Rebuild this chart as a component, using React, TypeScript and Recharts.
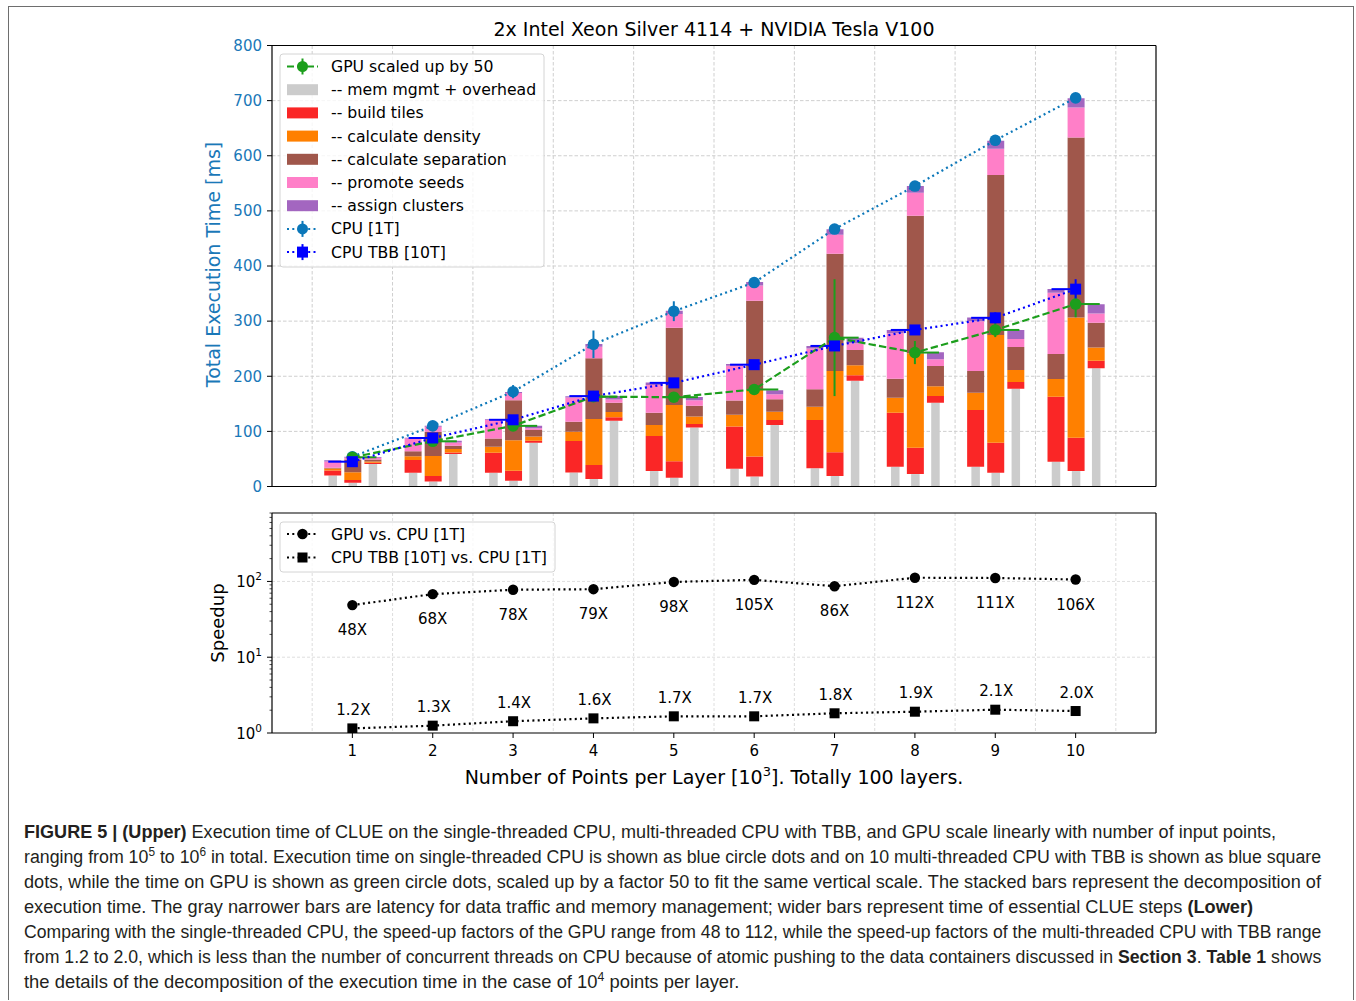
import React from 'react';
import { ComposedChart, Bar, Scatter, XAxis, YAxis, CartesianGrid, ErrorBar } from 'recharts';

// ---------- data ----------
const categories = [1, 2, 3, 4, 5, 6, 7, 8, 9, 10];
const halfTicks = [0.5, 1.5, 2.5, 3.5, 4.5, 5.5, 6.5, 7.5, 8.5, 9.5, 10.5];
const xDomain: [number, number] = [0, 11];
const yTicksUpper = [0, 100, 200, 300, 400, 500, 600, 700, 800];
const groupOffsets = [-0.25, 0, 0.25]; // TBB [10T], CPU [1T], GPU x50

// TBB [10T] (left bar) segments, ms
const tbbMem = [20, 25, 25, 25.5, 28, 32, 33, 36, 36, 45];
const tbbTiles = [9, 23, 36, 57, 63.5, 77, 87.5, 98, 103, 118];
const tbbDensity = [3.5, 7, 11, 17, 20, 21, 24, 27, 31, 32];
const tbbSeparation = [1.5, 9, 15, 18, 22.5, 26, 32, 34.5, 39.5, 45.5];
const tbbSeeds = [11.5, 23, 33.5, 44, 50, 63, 74, 82.5, 90.5, 111];
const tbbAssign = [2, 1.5, 1.5, 2, 4.5, 3, 4.5, 6, 6.5, 7];

// CPU [1T] (middle bar) segments, ms
const cpuMem = [7, 9, 10.5, 13.5, 16, 18, 19, 22.5, 25, 28];
const cpuTiles = [5, 10, 18, 25.5, 30, 36.5, 43, 48, 54.5, 60.5];
const cpuDensity = [14, 36.5, 55.5, 83.5, 102, 121, 147.5, 171, 195.5, 218];
const cpuSeparation = [23, 44, 72.5, 110, 140, 161.5, 212.5, 249.5, 290, 326.5];
const cpuSeeds = [3, 9, 13, 21, 25, 27.5, 34.5, 42, 47.5, 54.5];
const cpuAssign = [2, 1.5, 2, 5, 6, 6.5, 10, 12, 14.5, 17];

// GPU scaled up by 50 (right bar) segments, ms
const gpuMem = [41, 59, 79.5, 119.5, 107, 111.5, 192, 152, 177.5, 214.5];
const gpuTiles = [2, 2.5, 3.5, 6, 6.5, 9, 10, 12, 12, 13.5];
const gpuDensity = [2.5, 6.5, 7.5, 9.5, 13.5, 15, 18, 18, 22, 24];
const gpuSeparation = [3.5, 6, 12, 17, 19.5, 23, 27.5, 36.5, 41.5, 45];
const gpuSeeds = [3, 6, 3, 6, 10, 9, 12.5, 12.5, 14.5, 17];
const gpuAssign = [1.5, 3, 4.5, 6, 6, 7, 10, 12.5, 16.5, 16.5];

// totals with error bars
const cpu1T = [54, 110, 172, 258, 318, 370, 467, 545, 628, 705];
const cpu1TErr = [3, 3, 12, 25, 18, 3, 3, 3, 3, 3];
const tbb10T = [45, 88, 121, 164, 188, 221, 255, 284, 306, 358];
const tbb10TErr = [4, 4, 6, 4, 4, 4, 4, 7, 10, 18];
const gpu50 = [53, 82, 110, 163, 162, 176, 270, 243, 284, 331];
const gpu50Err = [3, 3, 3, 3, 3, 3, 106, 21, 13, 24];
const xErrSpan = 0.3;

// speedups (lower panel)
const gpuSpeedup = [48.7, 68, 77.7, 79, 98.5, 105, 86.5, 112, 111, 106];
const gpuSpeedupLabels = ['48X', '68X', '78X', '79X', '98X', '105X', '86X', '112X', '111X', '106X'];
const tbbSpeedup = [1.15, 1.25, 1.43, 1.56, 1.66, 1.66, 1.82, 1.91, 2.03, 1.95];
const tbbSpeedupLabels = ['1.2X', '1.3X', '1.4X', '1.6X', '1.7X', '1.7X', '1.8X', '1.9X', '2.1X', '2.0X'];
const logDomain: [number, number] = [1, 800];
const logMajor = [1, 10, 100];
const logTicks = [1, 2, 3, 4, 5, 6, 7, 8, 9, 10, 20, 30, 40, 50, 60, 70, 80, 90, 100, 200, 300, 400, 500, 600, 700, 800];

// ---------- styles ----------
const FONT = "'DejaVu Sans', sans-serif";
const CAPTION_FONT = "'Liberation Sans Narrow', 'Liberation Sans', Arial, sans-serif";
const segKeys = ['mem', 'tiles', 'density', 'separation', 'seeds', 'assign'];
const segColors: Record<string, string> = {
  mem: '#cccccc',
  tiles: '#fa2626',
  density: '#ff8000',
  separation: '#a0574b',
  seeds: '#ff7fc8',
  assign: '#a366c0',
};
const segLabels: Record<string, string> = {
  mem: '-- mem mgmt + overhead',
  tiles: '-- build tiles',
  density: '-- calculate density',
  separation: '-- calculate separation',
  seeds: '-- promote seeds',
  assign: '-- assign clusters',
};
const CPU_COLOR = '#0b77b9';
const TBB_COLOR = '#0000ff';
const GPU_COLOR = '#1c9e1c';
const AXIS_BLUE = '#1a78b8';
const GRID = '#cfcfcf';
const DOT = '2 3.3';
const DASH = '7.4 3.2';

// ---------- derived tables ----------
const stacks = [
  [tbbMem, tbbTiles, tbbDensity, tbbSeparation, tbbSeeds, tbbAssign],
  [cpuMem, cpuTiles, cpuDensity, cpuSeparation, cpuSeeds, cpuAssign],
  [gpuMem, gpuTiles, gpuDensity, gpuSeparation, gpuSeeds, gpuAssign],
];
const barRows: any[] = [];
categories.forEach((c, i) => {
  stacks.forEach((s, g) => {
    const row: any = { x: c + groupOffsets[g] };
    segKeys.forEach((k, j) => (row[k] = s[j][i]));
    barRows.push(row);
  });
});
const cpuRows = categories.map((c, i) => ({ x: c, y: cpu1T[i], ey: cpu1TErr[i] }));
const tbbRows = categories.map((c, i) => ({ x: c, y: tbb10T[i], ey: tbb10TErr[i], ex: [xErrSpan, 0] }));
const gpuRows = categories.map((c, i) => ({ x: c, y: gpu50[i], ey: gpu50Err[i], ex: [0, xErrSpan] }));
const gpuSpRows = categories.map((c, i) => ({ x: c, y: gpuSpeedup[i], label: gpuSpeedupLabels[i] }));
const tbbSpRows = categories.map((c, i) => ({ x: c, y: tbbSpeedup[i], label: tbbSpeedupLabels[i] }));

// ---------- helpers ----------
const halfGen = ({ offset }: any) =>
  halfTicks.map((v) => offset.left + ((v - xDomain[0]) / (xDomain[1] - xDomain[0])) * offset.width);
const logGen = ({ offset }: any) => {
  const l0 = Math.log10(logDomain[0]);
  const l1 = Math.log10(logDomain[1]);
  return logMajor
    .filter((v) => v > logDomain[0])
    .map((v) => offset.top + offset.height * (1 - (Math.log10(v) - l0) / (l1 - l0)));
};

const GrayShape = (p: any) => {
  const w = 8.5;
  if (!p.height) return <g />;
  return <rect x={p.x + (p.width - w) / 2} y={p.y} width={w} height={p.height} fill={segColors.mem} />;
};
const circleShape = (color: string, r: number) => (p: any) => <circle cx={p.cx} cy={p.cy} r={r} fill={color} />;
const squareShape = (color: string, s: number) => (p: any) => (
  <rect x={p.cx - s / 2} y={p.cy - s / 2} width={s} height={s} fill={color} />
);
const labeledCircle = (p: any) => (
  <g>
    <circle cx={p.cx} cy={p.cy} r={5.2} fill="#000" />
    <text x={p.cx} y={p.cy + 30} textAnchor="middle" fontSize={15} fill="#000" fontFamily={FONT}>
      {p.payload.label}
    </text>
  </g>
);
const labeledSquare = (p: any) => (
  <g>
    <rect x={p.cx - 5} y={p.cy - 5} width={10} height={10} fill="#000" />
    <text x={p.cx + 1} y={p.cy - 13.5} textAnchor="middle" fontSize={15} fill="#000" fontFamily={FONT}>
      {p.payload.label}
    </text>
  </g>
);
const LOG_TICK_SIZE = 5;
const LOG_TICK_MARGIN = 3;
const LogTick = (p: any) => {
  const v = p.payload.value;
  const axisX = p.x + LOG_TICK_SIZE + LOG_TICK_MARGIN;
  const major = logMajor.includes(v);
  const exp = Math.round(Math.log10(v));
  return (
    <g>
      <line x1={axisX - (major ? 5 : 2.5)} x2={axisX} y1={p.y} y2={p.y} stroke="#000" strokeWidth={major ? 1 : 0.7} />
      {major && (
        <text x={axisX - 10} y={p.y + 5.5} textAnchor="end" fontSize={15} fill="#000" fontFamily={FONT}>
          10
          <tspan dy={-7} fontSize={10.5}>
            {exp}
          </tspan>
        </text>
      )}
    </g>
  );
};

// caption
type Seg = { t: string; b?: boolean; sup?: boolean };
const captionLines: Seg[][] = [
  [
    { t: 'FIGURE 5 | (Upper)', b: true },
    { t: ' Execution time of CLUE on the single-threaded CPU, multi-threaded CPU with TBB, and GPU scale linearly with number of input points,' },
  ],
  [
    { t: 'ranging from 10' },
    { t: '5', sup: true },
    { t: ' to 10' },
    { t: '6', sup: true },
    { t: ' in total. Execution time on single-threaded CPU is shown as blue circle dots and on 10 multi-threaded CPU with TBB is shown as blue square' },
  ],
  [
    { t: 'dots, while the time on GPU is shown as green circle dots, scaled up by a factor 50 to fit the same vertical scale. The stacked bars represent the decomposition of' },
  ],
  [
    { t: 'execution time. The gray narrower bars are latency for data traffic and memory management; wider bars represent time of essential CLUE steps ' },
    { t: '(Lower)', b: true },
  ],
  [
    { t: 'Comparing with the single-threaded CPU, the speed-up factors of the GPU range from 48 to 112, while the speed-up factors of the multi-threaded CPU with TBB range' },
  ],
  [
    { t: 'from 1.2 to 2.0, which is less than the number of concurrent threads on CPU because of atomic pushing to the data containers discussed in ' },
    { t: 'Section 3', b: true },
    { t: '. ' },
    { t: 'Table 1', b: true },
    { t: ' shows' },
  ],
  [
    { t: 'the details of the decomposition of the execution time in the case of 10' },
    { t: '4', sup: true },
    { t: ' points per layer.' },
  ],
];
const captionEnds = [1278, 1322, 1322, 1254, 1322, 1322, 740];
const captionStart = 24;
const CAP_SIZE = 18;
const CAP_SUP = 12;

let measureCtx: CanvasRenderingContext2D | null = null;
const measure = (s: Seg) => {
  if (!measureCtx && typeof document !== 'undefined') {
    measureCtx = document.createElement('canvas').getContext('2d');
  }
  const size = s.sup ? CAP_SUP : CAP_SIZE;
  if (!measureCtx) return s.t.length * size * 0.5;
  measureCtx.font = `${s.b ? 'bold ' : ''}${size}px ${CAPTION_FONT}`;
  return measureCtx.measureText(s.t).width;
};

const renderCaption = () =>
  captionLines.map((segs, li) => {
    let shift = 0;
    const natural = segs.reduce((acc, s) => acc + measure(s), 0);
    const sx = natural > 0 ? (captionEnds[li] - captionStart) / natural : 1;
    return (
      <text
        key={li}
        transform={`translate(${captionStart - 8}, ${830 + li * 25}) scale(${sx}, 1)`}
        fontSize={CAP_SIZE}
        fill="#231f20"
        fontFamily={CAPTION_FONT}
        style={{ whiteSpace: 'pre' }}
      >
        {segs.map((s, k) => {
          const target = s.sup ? -7 : 0;
          const dy = target - shift;
          shift = target;
          return (
            <tspan key={k} dy={dy || undefined} fontSize={s.sup ? CAP_SUP : undefined} fontWeight={s.b ? 'bold' : undefined}>
              {s.t}
            </tspan>
          );
        })}
      </text>
    );
  });

// legend handles
const HX0 = 279;
const HX1 = 310;
const HXC = (HX0 + HX1) / 2;
const lineHandle = (y: number, color: string, dash: string, marker: 'circle' | 'square', err: boolean, size = 11) => (
  <g>
    <line x1={HX0} x2={HX1} y1={y} y2={y} stroke={color} strokeWidth={2} strokeDasharray={dash} />
    {err && <line x1={HXC} x2={HXC} y1={y - 8} y2={y + 8} stroke={color} strokeWidth={2} />}
    {marker === 'circle' ? (
      <circle cx={HXC} cy={y} r={size / 2} fill={color} />
    ) : (
      <rect x={HXC - size / 2} y={y - size / 2} width={size} height={size} fill={color} />
    )}
  </g>
);

export default function App() {
  const upperLegendY = (i: number) => 58.5 + 23.2 * i;
  const upperEntries: { label: string; handle: (y: number) => React.ReactNode }[] = [
    { label: 'GPU scaled up by 50', handle: (y) => lineHandle(y, GPU_COLOR, '7 3', 'circle', true) },
    ...segKeys.map((k) => ({
      label: segLabels[k],
      handle: (y: number) => <rect x={HX0} y={y - 5.5} width={HX1 - HX0} height={11} fill={segColors[k]} />,
    })),
    { label: 'CPU [1T]', handle: (y) => lineHandle(y, CPU_COLOR, DOT, 'circle', true) },
    { label: 'CPU TBB [10T]', handle: (y) => lineHandle(y, TBB_COLOR, DOT, 'square', true) },
  ];

  return (
    <div style={{ position: 'relative', width: 1356, height: 1000, fontFamily: FONT }}>
      <style>{'html,body{margin:0;padding:0;}'}</style>
      <div style={{ position: 'absolute', left: 8, top: 8, width: 1340, height: 984 }}>
        {/* outer frame */}
        <div
          style={{
            position: 'absolute',
            left: 0,
            top: -2,
            width: 1345.5,
            height: 994,
            boxSizing: 'border-box',
            borderTop: '1.5px solid #6e6e6e',
            borderLeft: '1.5px solid #6e6e6e',
            borderRight: '1.5px solid #6e6e6e',
          }}
        />
        {/* upper panel */}
        <div style={{ position: 'absolute', left: 0, top: 0 }}>
          <ComposedChart
            width={1340}
            height={500}
            data={barRows}
            margin={{ top: 36.5, right: 191, bottom: 11.5, left: 204 }}
            style={{ fontFamily: FONT }}
          >
            <CartesianGrid stroke={GRID} strokeDasharray="3.5 2" verticalCoordinatesGenerator={halfGen} />
            <XAxis
              dataKey="x"
              type="number"
              domain={xDomain}
              ticks={categories}
              interval={0}
              allowDataOverflow
              tick={false}
              tickSize={5}
              height={10}
              axisLine={{ stroke: '#000', strokeWidth: 1.2 }}
              tickLine={{ stroke: '#000' }}
            />
            <XAxis
              xAxisId="t"
              orientation="top"
              type="number"
              domain={xDomain}
              ticks={categories}
              allowDataOverflow
              height={1}
              tick={false}
              tickLine={false}
              axisLine={{ stroke: '#000', strokeWidth: 1.2 }}
            />
            <YAxis
              type="number"
              domain={[0, 800]}
              ticks={yTicksUpper}
              interval={0}
              allowDataOverflow
              width={60}
              tickSize={5}
              tickMargin={5}
              tick={{ fill: AXIS_BLUE, fontSize: 15, fontFamily: FONT }}
              axisLine={{ stroke: '#000', strokeWidth: 1.2 }}
              tickLine={{ stroke: '#000' }}
            />
            <YAxis
              yAxisId="r"
              orientation="right"
              type="number"
              domain={[0, 800]}
              ticks={yTicksUpper}
              allowDataOverflow
              width={1}
              tick={false}
              tickLine={false}
              axisLine={{ stroke: '#000', strokeWidth: 1.2 }}
            />
            {segKeys.map((k) => (
              <Bar
                key={k}
                dataKey={k}
                stackId="s"
                barSize={17}
                fill={segColors[k]}
                isAnimationActive={false}
                shape={k === 'mem' ? GrayShape : undefined}
              />
            ))}
            <Scatter
              data={cpuRows}
              dataKey="y"
              isAnimationActive={false}
              line={{ stroke: CPU_COLOR, strokeWidth: 2.2, strokeDasharray: DOT }}
              shape={circleShape(CPU_COLOR, 5.8)}
            >
              <ErrorBar dataKey="ey" direction="y" width={0} stroke={CPU_COLOR} strokeWidth={2} />
            </Scatter>
            <Scatter
              data={gpuRows}
              dataKey="y"
              isAnimationActive={false}
              line={{ stroke: GPU_COLOR, strokeWidth: 2.2, strokeDasharray: DASH }}
              shape={circleShape(GPU_COLOR, 5.8)}
            >
              <ErrorBar dataKey="ey" direction="y" width={0} stroke={GPU_COLOR} strokeWidth={2} />
              <ErrorBar dataKey="ex" direction="x" width={0} stroke={GPU_COLOR} strokeWidth={2} />
            </Scatter>
            <Scatter
              data={tbbRows}
              dataKey="y"
              isAnimationActive={false}
              line={{ stroke: TBB_COLOR, strokeWidth: 2.2, strokeDasharray: DOT }}
              shape={squareShape(TBB_COLOR, 11)}
            >
              <ErrorBar dataKey="ey" direction="y" width={0} stroke={TBB_COLOR} strokeWidth={2} />
              <ErrorBar dataKey="ex" direction="x" width={0} stroke={TBB_COLOR} strokeWidth={2} />
            </Scatter>
          </ComposedChart>
        </div>

        {/* lower panel */}
        <div style={{ position: 'absolute', left: 0, top: 480 }}>
          <ComposedChart width={1340} height={320} margin={{ top: 24, right: 191, bottom: 25, left: 204 }} style={{ fontFamily: FONT }}>
            <CartesianGrid
              stroke="#d6d6d6"
              strokeWidth={0.8}
              strokeDasharray="3 2"
              verticalCoordinatesGenerator={halfGen}
              horizontalCoordinatesGenerator={logGen}
            />
            <XAxis
              dataKey="x"
              type="number"
              domain={xDomain}
              ticks={categories}
              interval={0}
              allowDataOverflow
              tickSize={5}
              tickMargin={7}
              height={50}
              tick={{ fill: '#000', fontSize: 15, fontFamily: FONT }}
              axisLine={{ stroke: '#000', strokeWidth: 1.2 }}
              tickLine={{ stroke: '#000' }}
            />
            <XAxis
              xAxisId="t"
              orientation="top"
              type="number"
              domain={xDomain}
              ticks={categories}
              allowDataOverflow
              height={1}
              tick={false}
              tickLine={false}
              axisLine={{ stroke: '#000', strokeWidth: 1.2 }}
            />
            <YAxis
              type="number"
              scale="log"
              domain={logDomain}
              ticks={logTicks}
              interval={0}
              allowDataOverflow
              width={60}
              tickSize={LOG_TICK_SIZE}
              tickMargin={LOG_TICK_MARGIN}
              tickLine={false}
              tick={LogTick}
              axisLine={{ stroke: '#000', strokeWidth: 1.2 }}
            />
            <YAxis
              yAxisId="r"
              orientation="right"
              type="number"
              scale="log"
              domain={logDomain}
              ticks={logMajor}
              allowDataOverflow
              width={1}
              tick={false}
              tickLine={false}
              axisLine={{ stroke: '#000', strokeWidth: 1.2 }}
            />
            <Scatter
              data={gpuSpRows}
              dataKey="y"
              isAnimationActive={false}
              line={{ stroke: '#000', strokeWidth: 2.2, strokeDasharray: DOT }}
              shape={labeledCircle}
            />
            <Scatter
              data={tbbSpRows}
              dataKey="y"
              isAnimationActive={false}
              line={{ stroke: '#000', strokeWidth: 2.2, strokeDasharray: DOT }}
              shape={labeledSquare}
            />
          </ComposedChart>
        </div>

        {/* overlay: titles, legends, caption */}
        <svg
          width={1340}
          height={984}
          style={{ position: 'absolute', left: 0, top: 0, overflow: 'visible', pointerEvents: 'none' }}
          fontFamily={FONT}
        >
          <text x={706} y={28} textAnchor="middle" fontSize={19} fill="#000">
            2x Intel Xeon Silver 4114 + NVIDIA Tesla V100
          </text>
          <text
            x={205}
            y={256.5}
            textAnchor="middle"
            dominantBaseline="central"
            fontSize={19}
            fill={AXIS_BLUE}
            transform="rotate(-90, 205, 256.5)"
          >
            Total Execution Time [ms]
          </text>
          <text
            x={209}
            y={615}
            textAnchor="middle"
            dominantBaseline="central"
            fontSize={18}
            fill="#000"
            transform="rotate(-90, 209, 615)"
          >
            Speedup
          </text>
          <text x={706} y={776} textAnchor="middle" fontSize={19} fill="#000" style={{ whiteSpace: 'pre' }}>
            <tspan>Number of Points per Layer [10</tspan>
            <tspan dy={-8} fontSize={13}>3</tspan>
            <tspan dy={8}>]. Totally 100 layers.</tspan>
          </text>

          {/* upper legend */}
          <rect x={272} y={46} width={264} height={213} rx={3} fill="rgba(255,255,255,0.8)" stroke="#d4d4d4" strokeWidth={1} />
          {upperEntries.map((e, i) => (
            <g key={i}>
              {e.handle(upperLegendY(i))}
              <text x={323} y={upperLegendY(i) + 5.5} fontSize={15.7} fill="#000" style={{ whiteSpace: 'pre' }}>
                {e.label}
              </text>
            </g>
          ))}

          {/* lower legend */}
          <rect x={272} y={514} width={275} height={50} rx={3} fill="rgba(255,255,255,0.8)" stroke="#d4d4d4" strokeWidth={1} />
          {lineHandle(526, '#000', DOT, 'circle', false, 10.5)}
          <text x={323} y={531.5} fontSize={15.7} fill="#000">GPU vs. CPU [1T]</text>
          {lineHandle(549.5, '#000', DOT, 'square', false, 10)}
          <text x={323} y={555} fontSize={15.7} fill="#000">CPU TBB [10T] vs. CPU [1T]</text>

          {renderCaption()}
        </svg>
      </div>
    </div>
  );
}
